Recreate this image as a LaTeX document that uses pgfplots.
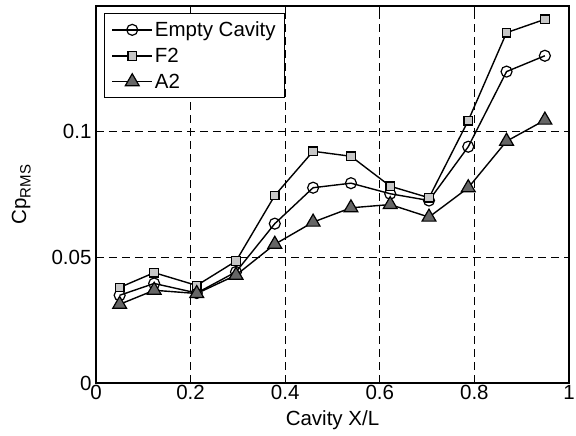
\documentclass[border=0pt]{standalone}
\usepackage{fontspec}
\setmainfont{Liberation Sans}
\usepackage{pgfplots}
\pgfplotsset{compat=1.18}
\definecolor{lgray}{gray}{0.78}
\definecolor{dgray}{gray}{0.40}
\begin{document}
\begin{tikzpicture}
\begin{axis}[
  scale only axis, width=473pt, height=377pt,
  xmin=0, xmax=1, ymin=0, ymax=0.15,
  xtick={0,0.2,0.4,0.6,0.8,1},
  xticklabels={0,0.2,0.4,0.6,0.8,1},
  ytick={0,0.05,0.1},
  yticklabels={0,0.05,0.1},
  tick align=inside, xtick pos=both, ytick pos=both,
  major tick length=5pt,
  grid=major,
  major grid style={black, dash pattern=on 8pt off 5pt, line width=0.7pt},
  axis line style={line width=1.2pt},
  tick style={black, line width=0.8pt},
  font=\fontsize{20.5}{23}\selectfont,
  xticklabel style={yshift=1pt},
  yticklabel style={xshift=-1pt},
  xlabel={Cavity X/L},
  ylabel={Cp\raisebox{-0.4ex}{\fontsize{15}{16}\selectfont RMS}},
  xlabel style={yshift=-4pt},
  ylabel style={yshift=14pt},
  legend style={at={(0.017,0.981)}, anchor=north west, draw=black, line width=1pt,
    font=\fontsize{20.5}{23}\selectfont, row sep=6pt, inner xsep=7pt, inner ysep=6pt,
    every odd column/.style={column sep=8pt}},
  legend cell align=left,
  legend image code/.code={\draw[mark repeat=2,mark phase=2] plot coordinates {(0pt,0pt)(20pt,0pt)(40pt,0pt)};},
]
\addplot[black, line width=1.4pt, mark=o, mark size=5.5pt, mark options={fill=white, line width=1.2pt}]
coordinates {(0.050,0.0349)(0.123,0.0396)(0.213,0.0358)(0.296,0.0442)(0.378,0.0634)(0.459,0.0777)(0.539,0.0795)(0.622,0.0753)(0.704,0.0726)(0.787,0.0940)(0.868,0.1239)(0.949,0.1302)};
\addlegendentry{Empty Cavity}
\addplot[black, line width=1.4pt, mark=square*, mark size=4.3pt, mark options={fill=lgray, line width=1.2pt}]
coordinates {(0.050,0.0380)(0.123,0.0439)(0.213,0.0388)(0.296,0.0485)(0.378,0.0746)(0.459,0.0922)(0.539,0.0902)(0.622,0.0783)(0.704,0.0737)(0.787,0.1044)(0.868,0.1394)(0.949,0.1447)};
\addlegendentry{F2}
\addplot[black, line width=1.4pt, mark=triangle*, mark size=8pt, mark options={fill=dgray, line width=1.2pt}]
coordinates {(0.050,0.0313)(0.123,0.0369)(0.213,0.0356)(0.296,0.0429)(0.378,0.0552)(0.459,0.0640)(0.539,0.0697)(0.622,0.0710)(0.704,0.0660)(0.787,0.0777)(0.868,0.0962)(0.949,0.1046)};
\addlegendentry{A2}
\coordinate (sw) at (rel axis cs:0,0);
\coordinate (ne) at (rel axis cs:1,1);
\end{axis}
\pgfresetboundingbox
\path[use as bounding box] ([shift={(-96pt,-53pt)}]sw) rectangle ([shift={(7pt,6pt)}]ne);
\end{tikzpicture}
\end{document}
